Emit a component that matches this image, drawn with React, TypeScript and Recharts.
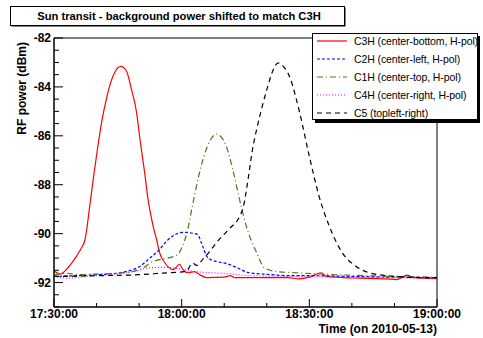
import React from "react";
import { LineChart, Line, XAxis, YAxis, ReferenceArea } from "recharts";

// minutes after 17:30:00 on 2010-05-13, power in dBm
const START_MINUTES = 17 * 60 + 30;
const timeTicks = [0, 10, 20, 30, 40, 50, 60, 70, 80, 90];
const powerTicks = [
  -93, -92.5, -92, -91.5, -91, -90.5, -90, -89.5, -89, -88.5, -88, -87.5,
  -87, -86.5, -86, -85.5, -85, -84.5, -84, -83.5, -83, -82.5, -82,
];

const c3h: [number, number][] = [
  [0, -91.53], [1.5, -91.65], [3, -91.45], [4.2, -91.2], [5.3, -90.92],
  [6.4, -90.6], [7.3, -90.24], [8.4, -88.87], [9.2, -87.8], [10.2, -86.55],
  [11.2, -85.44], [12.3, -84.5], [13.1, -83.95], [14.3, -83.4], [15.7, -83.16],
  [17.0, -83.34], [18.2, -84.1], [19.4, -85.04], [20.2, -86.14], [21.3, -87.5],
  [22.1, -88.6], [23.3, -89.7], [24.1, -90.24], [24.8, -90.77], [26.0, -91.18],
  [28.0, -91.47], [29.5, -91.26], [30.3, -91.47], [31.5, -91.6], [33.0, -91.55],
  [34.2, -91.67], [35.8, -91.8], [40, -91.78], [41.5, -91.72], [42.5, -91.8],
  [45, -91.8], [50, -91.8], [55, -91.8], [57.5, -91.85], [60, -91.78],
  [62.8, -91.6], [64, -91.75], [68, -91.8], [72, -91.82], [78, -91.85],
  [80.5, -91.88], [83, -91.7], [84.5, -91.8], [90, -91.84],
];

const c2h: [number, number][] = [
  [0, -91.75], [5, -91.72], [10, -91.68], [15.5, -91.6], [18, -91.5],
  [20.2, -91.34], [22.5, -91.0], [24.8, -90.65], [26.5, -90.3], [27.9, -90.1],
  [30.2, -89.95], [32, -89.97], [33.7, -90.03], [34.9, -90.5], [35.9, -90.93],
  [37, -91.08], [38.2, -91.14], [41.2, -91.26], [43.1, -91.4], [45.9, -91.6],
  [50.6, -91.67], [55, -91.72], [60, -91.72], [70, -91.75], [80, -91.78],
  [90, -91.8],
];

const c1h: [number, number][] = [
  [0, -91.7], [3, -91.62], [6, -91.68], [10, -91.65], [15, -91.62],
  [20.2, -91.47], [23.2, -91.14], [24.8, -91.06], [27.2, -90.98], [29.1, -90.85],
  [30.2, -90.5], [31.2, -90.0], [32.6, -88.8], [34.2, -87.5], [35.9, -86.5],
  [37, -86.1], [38.2, -85.93], [39.3, -86.05], [40.5, -86.43], [42, -87.37],
  [43.6, -88.6], [45.2, -89.7], [47.6, -90.77], [49.4, -91.39], [52.3, -91.55],
  [57, -91.6], [64.7, -91.67], [70, -91.7], [80, -91.75], [90, -91.78],
];

const c4h: [number, number][] = [
  [0, -91.75], [3, -91.82], [6, -91.78], [10, -91.72], [15, -91.65],
  [20, -91.5], [22, -91.4], [26, -91.38], [30, -91.45], [33, -91.55],
  [37, -91.6], [42, -91.65], [46, -91.72], [55, -91.75], [70, -91.78],
  [90, -91.82],
];

const c5: [number, number][] = [
  [0, -91.75], [10, -91.72], [20, -91.68], [25, -91.62], [31, -91.55],
  [32.6, -91.2], [33.5, -91.3], [34.9, -91.06], [36.5, -90.75], [38.2, -90.36],
  [41.2, -89.8], [43.6, -89.3], [44.5, -88.9], [45.5, -87.9], [46.6, -86.6],
  [47.8, -85.6], [49, -84.75], [50.2, -84.0], [51.3, -83.39], [52.7, -83.02],
  [53.5, -83.1], [55.3, -83.56], [57.7, -85.03], [60, -86.84], [62.3, -88.48],
  [64.7, -89.7], [67.7, -90.77], [71, -91.34], [74.1, -91.6], [80.4, -91.75],
  [88.1, -91.8], [90, -91.8],
];

const series = [
  { name: "C3H (center-bottom, H-pol)", data: c3h, color: "#ff0000", dash: undefined },
  { name: "C2H (center-left, H-pol)", data: c2h, color: "#0000ff", dash: "3 2" },
  { name: "C1H (center-top, H-pol)", data: c1h, color: "#467a18", dash: "6 3 1 3" },
  { name: "C4H (center-right, H-pol)", data: c4h, color: "#ff00ff", dash: "1 2" },
  { name: "C5 (topleft-right)", data: c5, color: "#000000", dash: "5 4" },
];

const FONT = "'Liberation Sans', Arial, Helvetica, sans-serif";

const toPoints = (pairs: [number, number][]) => pairs.map(([t, p]) => ({ t, p }));

function clock(minutes: number) {
  const total = START_MINUTES + minutes;
  const h = Math.floor(total / 60);
  const m = total % 60;
  return `${h}:${String(m).padStart(2, "0")}:00`;
}

function TimeTick(props: any) {
  const { x, y, payload } = props;
  const major = payload.value % 30 === 0;
  return (
    <g>
      <line x1={x} x2={x} y1={y} y2={y - (major ? 8 : 4)} stroke="#000" />
      {major && (
        <text x={x} y={y + 11} textAnchor="middle" fontSize={12} fontWeight="bold" fontFamily={FONT} fill="#000">
          {clock(payload.value)}
        </text>
      )}
    </g>
  );
}

function PowerTick(props: any) {
  const { x, y, payload } = props;
  const major = payload.value % 2 === 0;
  return (
    <g>
      <line x1={x} x2={x + (major ? 9 : 5)} y1={y} y2={y} stroke="#000" />
      {major && (
        <text x={x - 3} y={y + 4.3} textAnchor="end" fontSize={12} fontWeight="bold" fontFamily={FONT} fill="#000">
          {payload.value}
        </text>
      )}
    </g>
  );
}

export default function App() {
  return (
    <div style={{ position: "absolute", left: 0, top: 0, width: 483, height: 338, background: "#fff" }}>
      <LineChart width={483} height={338} margin={{ top: 38, right: 46, bottom: 0, left: 0 }}>
        <XAxis
          dataKey="t"
          type="number"
          domain={[0, 90]}
          ticks={timeTicks}
          interval={0}
          height={31}
          tickSize={0}
          tickMargin={0}
          tick={<TimeTick />}
          axisLine={{ stroke: "#000" }}
          allowDuplicatedCategory={false}
        />
        <YAxis
          type="number"
          domain={[-93, -82]}
          ticks={powerTicks}
          interval={0}
          width={54}
          tickSize={0}
          tickMargin={0}
          tick={<PowerTick />}
          axisLine={{ stroke: "#000" }}
        />
        <ReferenceArea x1={0} x2={90} y1={-93} y2={-82} fill="none" stroke="#000" strokeWidth={1} />
        {series.map((s) => (
          <Line
            key={s.name}
            data={toPoints(s.data)}
            dataKey="p"
            type="monotone"
            stroke={s.color}
            strokeWidth={1.2}
            strokeDasharray={s.dash}
            dot={false}
            isAnimationActive={false}
          />
        ))}
      </LineChart>
      <svg
        width={483}
        height={338}
        style={{ position: "absolute", left: 0, top: 0, pointerEvents: "none" }}
        fontFamily={FONT}
      >
        {/* title box */}
        <rect x={11.5} y={7.5} width={334} height={19} fill="#000" />
        <rect x={10.5} y={6.5} width={334} height={19} fill="#fff" stroke="#000" />
        <text x={179} y={20} textAnchor="middle" fontSize={11.2} fontWeight="bold">
          Sun transit - background power shifted to match C3H
        </text>
        {/* axis titles */}
        <text x={437} y={333} textAnchor="end" fontSize={12} fontWeight="bold">
          Time (on 2010-05-13)
        </text>
        <text x={26} y={42} textAnchor="end" fontSize={12} fontWeight="bold" transform="rotate(-90 26 42)">
          RF power (dBm)
        </text>
        {/* legend */}
        <rect x={315} y={36} width={165} height={87} fill="#000" />
        <rect x={312.5} y={33.5} width={165} height={86} fill="#fff" stroke="#000" />
        {series.map((s, i) => {
          const cy = 41 + i * 18;
          return (
            <g key={s.name}>
              <line x1={317} x2={347} y1={cy} y2={cy} stroke={s.color} strokeWidth={1.2} strokeDasharray={s.dash} />
              <text x={354} y={cy + 3.7} fontSize={10.5} letterSpacing={-0.1}>
                {s.name}
              </text>
            </g>
          );
        })}
      </svg>
    </div>
  );
}
